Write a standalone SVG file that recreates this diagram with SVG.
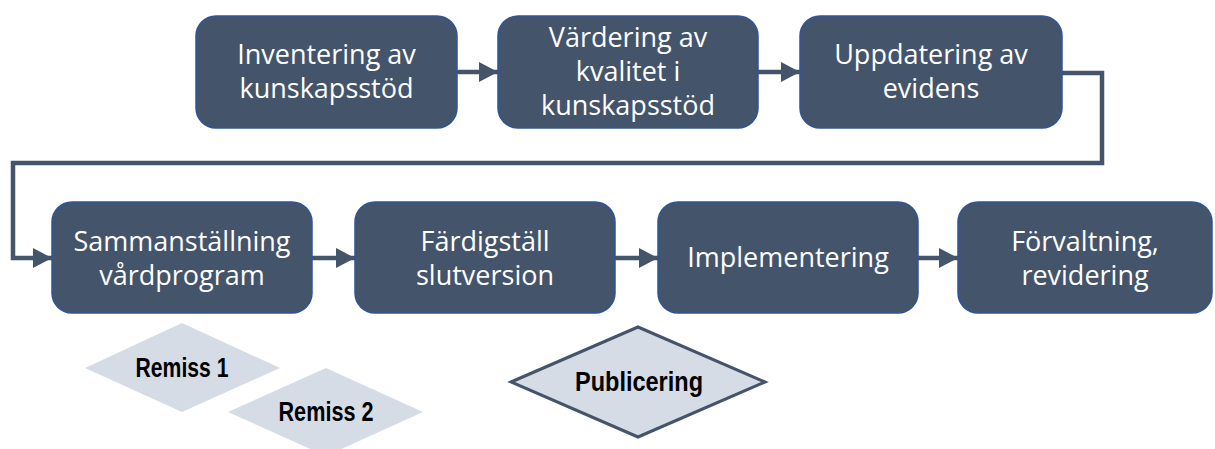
<svg xmlns="http://www.w3.org/2000/svg" width="1215" height="449" viewBox="0 0 1215 449">
  <style>
    .box { fill: #44546a; stroke: #2f5597; stroke-width: 1.5; }
    .lbl { fill: #ffffff; font-family: "Open Sans", "Noto Sans", sans-serif; font-size: 27px; text-anchor: middle; }
    .conn { fill: none; stroke: #44546a; stroke-width: 4.5; }
    .dia { fill: #d6dce5; }
    .dia-s { fill: #d6dce5; stroke: #44546a; stroke-width: 3; stroke-linejoin: miter; }
    .dlbl { fill: #000000; font-family: "Liberation Sans Narrow", "Liberation Sans", Arial, sans-serif; font-weight: bold; font-size: 27px; text-anchor: middle; }
  </style>
  <defs>
    <marker id="arr" markerUnits="userSpaceOnUse" markerWidth="19" markerHeight="20" viewBox="0 0 19 20" refX="19" refY="10" orient="auto">
      <path d="M0,0 L19,10 L0,20 z" fill="#44546a"/>
    </marker>
  </defs>

  <g id="connectors">
    <path class="conn" d="M457,72 H498" marker-end="url(#arr)"/>
    <path class="conn" d="M758,72 H800" marker-end="url(#arr)"/>
    <path class="conn" d="M1062,73 H1102 V163 H13 V258 H52" marker-end="url(#arr)"/>
    <path class="conn" d="M312,258 H355" marker-end="url(#arr)"/>
    <path class="conn" d="M615,258 H658" marker-end="url(#arr)"/>
    <path class="conn" d="M918,258 H958" marker-end="url(#arr)"/>
  </g>

  <g id="n1">
    <rect class="box" x="196" y="16" width="261" height="112" rx="20"/>
    <text class="lbl" x="326.5" y="64">Inventering av</text>
    <text class="lbl" x="326.5" y="98">kunskapsstöd</text>
  </g>
  <g id="n2">
    <rect class="box" x="498" y="16" width="260" height="112" rx="20"/>
    <text class="lbl" x="628" y="47">Värdering av</text>
    <text class="lbl" x="628" y="81">kvalitet i</text>
    <text class="lbl" x="628" y="115">kunskapsstöd</text>
  </g>
  <g id="n3">
    <rect class="box" x="800" y="16" width="262" height="112" rx="20"/>
    <text class="lbl" x="931" y="64">Uppdatering av</text>
    <text class="lbl" x="931" y="98">evidens</text>
  </g>
  <g id="n4">
    <rect class="box" x="52" y="202" width="260" height="111" rx="20"/>
    <text class="lbl" x="182" y="251">Sammanställning</text>
    <text class="lbl" x="182" y="285">vårdprogram</text>
  </g>
  <g id="n5">
    <rect class="box" x="355" y="202" width="260" height="111" rx="20"/>
    <text class="lbl" x="485" y="251">Färdigställ</text>
    <text class="lbl" x="485" y="285">slutversion</text>
  </g>
  <g id="n6">
    <rect class="box" x="658" y="202" width="260" height="111" rx="20"/>
    <text class="lbl" x="788" y="267">Implementering</text>
  </g>
  <g id="n7">
    <rect class="box" x="958" y="202" width="254" height="111" rx="20"/>
    <text class="lbl" x="1085" y="251">Förvaltning,</text>
    <text class="lbl" x="1085" y="285">revidering</text>
  </g>

  <g id="remiss1">
    <polygon class="dia" points="85,368 182,323 280,368 182,412"/>
    <text class="dlbl" x="182" y="377" textLength="93" lengthAdjust="spacingAndGlyphs">Remiss 1</text>
  </g>
  <g id="remiss2">
    <polygon class="dia" points="228,412 326,368 423,412 326,456"/>
    <text class="dlbl" x="326" y="421" textLength="95" lengthAdjust="spacingAndGlyphs">Remiss 2</text>
  </g>
  <g id="publicering">
    <polygon class="dia-s" points="511,382 638,327 765,382 638,437"/>
    <text class="dlbl" x="639" y="391" textLength="128" lengthAdjust="spacingAndGlyphs">Publicering</text>
  </g>
</svg>
